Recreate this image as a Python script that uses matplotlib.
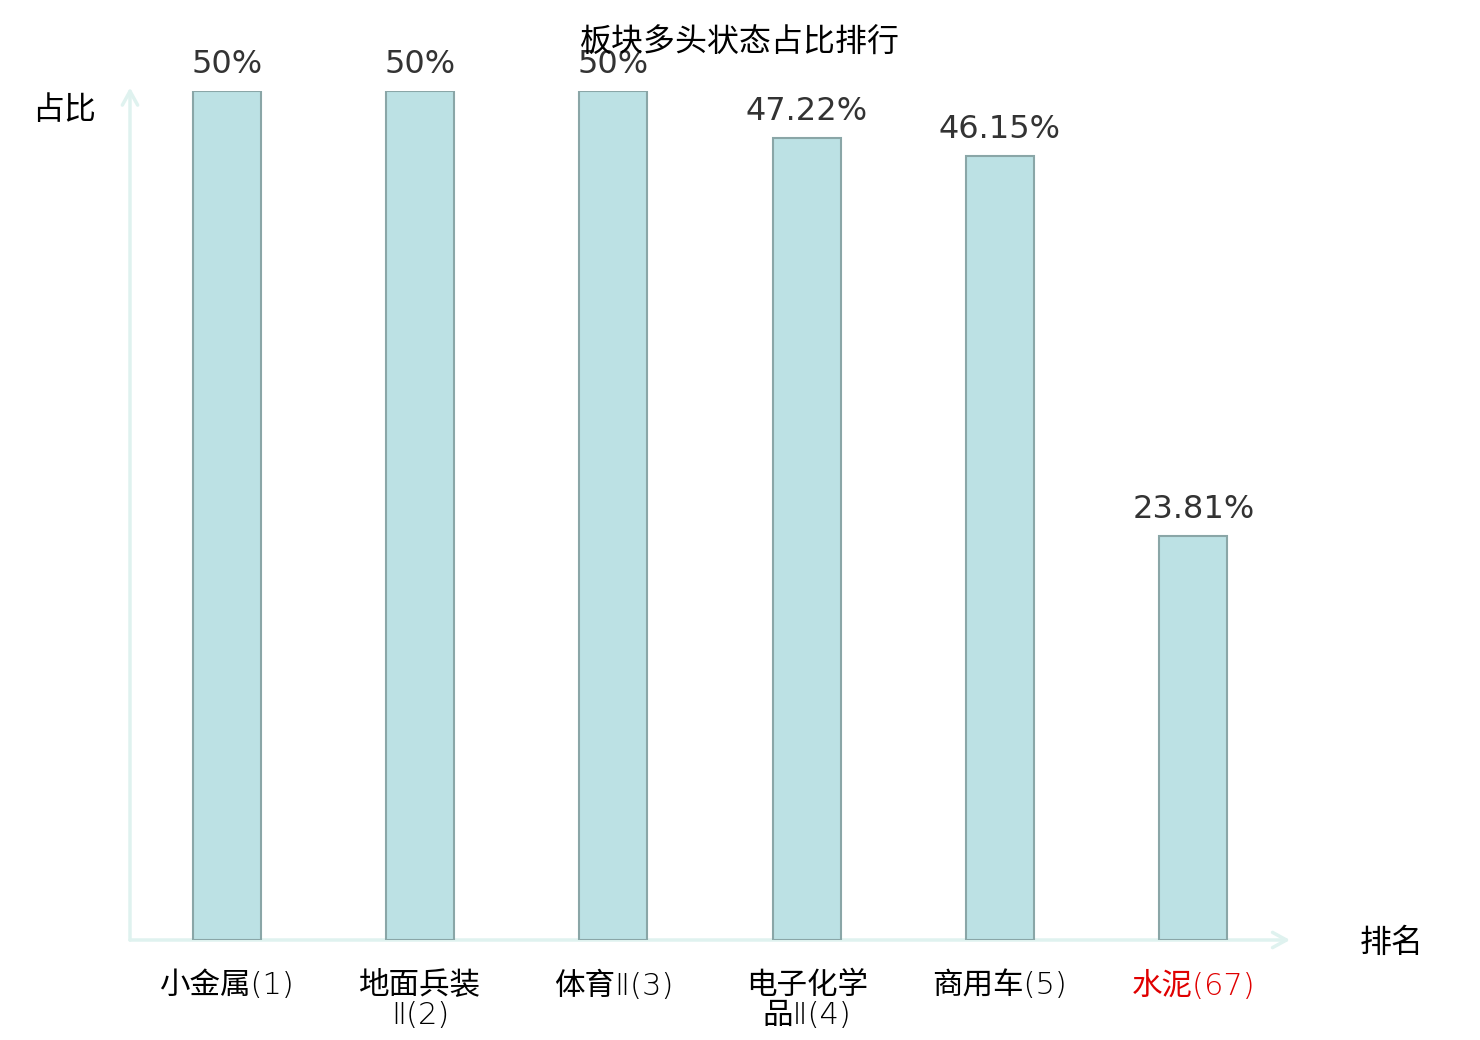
import numpy as np
import matplotlib
matplotlib.use("Agg")
import matplotlib.pyplot as plt

plt.rcParams['font.family'] = ['Noto Sans CJK SC', 'DejaVu Sans']

## Data
sectors = ["小金属(1)", "地面兵装\nⅡ(2)", "体育Ⅱ(3)", "电子化学\n品Ⅱ(4)", "商用车(5)", "水泥(67)"]
ratios = [50, 50, 50, 47.22, 46.15, 23.81]
value_labels = ["50%", "50%", "50%", "47.22%", "46.15%", "23.81%"]
label_colors = ["#000000", "#000000", "#000000", "#000000", "#000000", "#e00000"]

W, H = 1480, 1040
fig = plt.figure(figsize=(W / 100, H / 100), dpi=100)
ax = fig.add_axes([130 / W, (H - 940) / H, (1290 - 130) / W, (940 - 91) / H])

x = np.arange(len(sectors))
ax.bar(x, ratios, width=68 / 193.3, color="#bce1e4", edgecolor="#8aa6a7", linewidth=1.5, zorder=3)
ax.set_xlim(-0.5, len(sectors) - 0.5)
ax.set_ylim(0, 50)

for xi, v, lab in zip(x, ratios, value_labels):
    ax.annotate(lab, (xi, v), xytext=(0, 18), textcoords="offset pixels",
                ha="center", va="baseline", fontsize=23, color="#333333",
                family="DejaVu Sans", zorder=4)

## axes as arrows
for s in ax.spines.values():
    s.set_visible(False)
axis_color = "#dff2ef"
arrow = dict(arrowstyle="->,head_length=1.0,head_width=0.55", color=axis_color, lw=2.5,
             shrinkA=0, shrinkB=0)
ax.annotate("", xy=(1.0, 0), xytext=(0, 0), xycoords="axes fraction", arrowprops=arrow, zorder=1)
ax.annotate("", xy=(0, 1.004), xytext=(0, 0), xycoords="axes fraction", arrowprops=arrow, zorder=1)

ax.set_yticks([])
ax.set_xticks(x)
ax.set_xticklabels(sectors, fontsize=22, linespacing=1.08,
                   family=['DejaVu Sans', 'Noto Sans CJK SC'], fontweight='light')
ax.tick_params(axis="x", length=0, pad=22)
for t, c in zip(ax.get_xticklabels(), label_colors):
    t.set_color(c)
    t.set_verticalalignment("top")

fig.text(64 / W, 1 - 110 / H, "占比", ha="center", va="center", fontsize=23)
fig.text(1392 / W, 1 - 943 / H, "排名", ha="center", va="center", fontsize=23)
fig.text(0.5, 1 - 43 / H, "板块多头状态占比排行", ha="center", va="center", fontsize=23)

plt.savefig("out.png", dpi=100)
